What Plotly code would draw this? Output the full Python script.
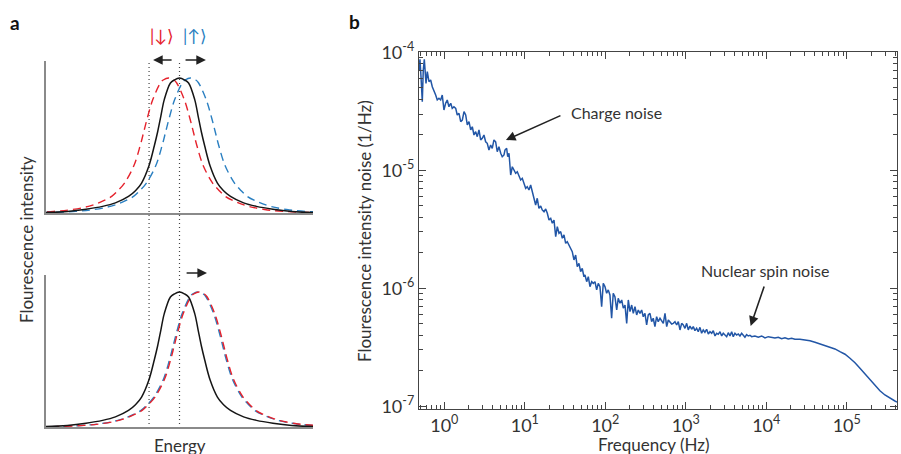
import plotly.graph_objects as go

# ---------------- Panel a: schematic line shapes ----------------
# one-sided profiles: offset from line centre (energy units) -> relative intensity
solid_offset = [0, 0.2, 0.34, 0.57, 0.70, 0.82, 0.94, 1.15, 1.42, 1.65, 1.91, 2.4, 2.88, 3.5, 4.2, 5.0, 6.0]
solid_value = [1.0, 0.985, 0.963, 0.84, 0.716, 0.60, 0.50, 0.346, 0.222, 0.165, 0.123, 0.075, 0.049, 0.028, 0.012, 0.004, 0.001]
dashed_offset = [0, 0.2, 0.3, 0.59, 0.8, 0.93, 1.06, 1.3, 1.65, 1.9, 2.13, 2.55, 3.0, 3.6, 4.3, 5.5, 6.5]
dashed_value = [1.0, 0.985, 0.965, 0.84, 0.70, 0.60, 0.50, 0.35, 0.222, 0.165, 0.123, 0.08, 0.049, 0.026, 0.012, 0.003, 0.001]

centre_black = 0.0
centre_top_down = -0.41
centre_top_up = 0.41
centre_bottom_down = 0.73
centre_bottom_up = 0.69
guide_lines = [-1.14, 0.0]
ket_labels = ["|↓⟩", "|↑⟩"]

# ---------------- Panel b: fluorescence intensity noise spectrum (log10 values) ----------------
freq_log10 = [
    -0.314, -0.302, -0.289, -0.273, -0.261, -0.248, -0.227, -0.211, -0.190, -0.169,
    -0.149, -0.128, -0.107, -0.087, -0.066, -0.045, -0.025, -0.004, 0.017, 0.037,
    0.058, 0.080, 0.099, 0.120, 0.142, 0.161, 0.183, 0.204, 0.224, 0.245,
    0.266, 0.286, 0.307, 0.328, 0.348, 0.369, 0.390, 0.410, 0.431, 0.452,
    0.472, 0.493, 0.514, 0.534, 0.555, 0.576, 0.596, 0.617, 0.638, 0.658,
    0.679, 0.701, 0.720, 0.742,
    0.754, 0.775, 0.788, 0.804, 0.825, 0.845, 0.866, 0.887, 0.907, 0.928,
    0.949, 0.969, 0.990, 1.011, 1.031, 1.052, 1.073, 1.093, 1.114, 1.135,
    1.155, 1.176, 1.198, 1.217, 1.239, 1.260, 1.280, 1.301, 1.322, 1.342,
    1.363, 1.384, 1.404, 1.425, 1.446, 1.466, 1.487, 1.508, 1.528, 1.549,
    1.570, 1.590, 1.611, 1.632, 1.652, 1.673, 1.694, 1.714, 1.735,
    1.748, 1.769, 1.789, 1.810, 1.831, 1.851, 1.872, 1.893, 1.913, 1.934,
    1.955, 1.975, 1.996, 2.017, 2.037, 2.058, 2.079, 2.099, 2.120, 2.142,
    2.161, 2.183, 2.204, 2.224, 2.245, 2.266, 2.286, 2.307, 2.328, 2.348,
    2.369, 2.390, 2.410, 2.431, 2.452, 2.472, 2.493, 2.514, 2.534, 2.555,
    2.576, 2.596, 2.617, 2.638, 2.658, 2.680, 2.701, 2.721, 2.742, 2.763,
    2.783, 2.804, 2.825, 2.845, 2.866, 2.887, 2.907, 2.928, 2.949,
    2.969, 2.990, 3.011, 3.031, 3.052, 3.073, 3.093, 3.114, 3.135, 3.155,
    3.176, 3.197, 3.217, 3.238, 3.259, 3.280, 3.301, 3.322, 3.342, 3.363,
    3.384, 3.404, 3.425, 3.446, 3.466, 3.487, 3.508, 3.528, 3.549, 3.570,
    3.590, 3.611, 3.632, 3.652, 3.673, 3.694, 3.714, 3.735, 3.756, 3.776,
    3.797, 3.818, 3.859, 3.901, 3.943, 3.984, 4.025, 4.067, 4.108, 4.149,
    4.191, 4.232, 4.273, 4.315, 4.356,
    4.418, 4.481, 4.543, 4.605, 4.667, 4.729, 4.791, 4.853, 4.915, 4.978,
    5.040, 5.102, 5.164, 5.226, 5.288, 5.350, 5.412, 5.474, 5.536, 5.598, 5.624,
]
noise_log10 = [
    -4.150, -4.059, -4.207, -4.419, -4.150, -4.059, -4.263, -4.164, -4.249, -4.235,
    -4.292, -4.320, -4.362, -4.404, -4.390, -4.404, -4.362, -4.489, -4.432, -4.404,
    -4.461, -4.432, -4.475, -4.461, -4.475, -4.531, -4.517, -4.588, -4.574, -4.503,
    -4.531, -4.616, -4.588, -4.658, -4.631, -4.701, -4.673, -4.715, -4.658, -4.743,
    -4.729, -4.701, -4.758, -4.771, -4.828, -4.786, -4.814, -4.743, -4.758, -4.842,
    -4.800, -4.856, -4.885, -4.870,
    -4.828, -4.814, -4.885, -4.856, -5.040, -4.970, -4.997, -5.025, -5.012, -5.054,
    -5.082, -5.068, -5.110, -5.153, -5.139, -5.167, -5.125, -5.181, -5.252, -5.294,
    -5.237, -5.322, -5.303, -5.336, -5.351, -5.328, -5.364, -5.421, -5.407, -5.449,
    -5.421, -5.563, -5.478, -5.534, -5.520, -5.576, -5.548, -5.619, -5.605, -5.633,
    -5.675, -5.690, -5.760, -5.718, -5.817, -5.788, -5.859, -5.831, -5.902,
    -5.887, -5.944, -5.902, -5.986, -5.944, -5.958, -5.944, -6.014, -5.958, -5.986,
    -6.156, -5.958, -5.986, -6.042, -6.014, -6.057, -6.254, -6.042, -6.071, -6.184,
    -6.085, -6.127, -6.099, -6.169, -6.142, -6.297, -6.099, -6.198, -6.142, -6.212,
    -6.156, -6.226, -6.184, -6.212, -6.184, -6.241, -6.212, -6.311, -6.226, -6.212,
    -6.283, -6.254, -6.325, -6.241, -6.283, -6.254, -6.283, -6.297, -6.212, -6.325,
    -6.269, -6.283, -6.303, -6.297, -6.283, -6.311, -6.283, -6.353, -6.297,
    -6.311, -6.339, -6.297, -6.353, -6.320, -6.347, -6.325, -6.359, -6.339, -6.368,
    -6.331, -6.381, -6.353, -6.373, -6.347, -6.387, -6.368, -6.381, -6.359, -6.404,
    -6.381, -6.390, -6.368, -6.404, -6.381, -6.396, -6.410, -6.376, -6.404, -6.368,
    -6.410, -6.381, -6.396, -6.387, -6.404, -6.381, -6.398, -6.415, -6.393, -6.404,
    -6.398, -6.410, -6.404, -6.415, -6.404, -6.421, -6.410, -6.415, -6.421, -6.415,
    -6.427, -6.419, -6.430, -6.424, -6.432,
    -6.432, -6.438, -6.444, -6.458, -6.472, -6.481, -6.495, -6.514, -6.537, -6.559,
    -6.593, -6.631, -6.678, -6.726, -6.777, -6.828, -6.868, -6.904, -6.932, -6.955, -6.964,
]
freq_major = [1e0, 1e1, 1e2, 1e3, 1e4, 1e5]
freq_major_text = ["10<sup>0</sup>", "10<sup>1</sup>", "10<sup>2</sup>", "10<sup>3</sup>", "10<sup>4</sup>", "10<sup>5</sup>"]
noise_major = [1e-7, 1e-6, 1e-5, 1e-4]
noise_major_text = ["10<sup>-7</sup>", "10<sup>-6</sup>", "10<sup>-5</sup>", "10<sup>-4</sup>"]

freq = [10 ** v for v in freq_log10]
noise = [10 ** v for v in noise_log10]
freq_minor = [k * 10.0 ** n for n in range(-1, 6) for k in range(2, 10)]
noise_minor = [k * 10.0 ** n for n in range(-7, -4) for k in range(2, 10)]

RED = "#e5222c"
BLUE = "#2a7fc1"
BLACK = "#151515"
NAVY = "#2256a6"
FONT = "Lato, 'Open Sans', sans-serif"
TXT = "#333333"
W, H = 901, 454


def profile(centre, offs, vals):
    xs = [centre - d for d in reversed(offs[1:])] + [centre + d for d in offs]
    ys = list(reversed(vals[1:])) + list(vals)
    return xs, ys


fig = go.Figure()


def add_curve(centre, offs, vals, color, dash, xa, ya, width):
    xs, ys = profile(centre, offs, vals)
    fig.add_trace(go.Scatter(x=xs, y=ys, xaxis=xa, yaxis=ya, mode="lines",
                             line=dict(color=color, width=width, dash=dash, shape="spline", smoothing=1.0),
                             hoverinfo="skip", showlegend=False))


DASH = "8px,5px"
# top panel
add_curve(centre_top_down, dashed_offset, dashed_value, RED, DASH, "x", "y", 1.4)
add_curve(centre_top_up, dashed_offset, dashed_value, BLUE, DASH, "x", "y", 1.4)
add_curve(centre_black, solid_offset, solid_value, BLACK, "solid", "x", "y", 1.5)
# bottom panel
add_curve(centre_bottom_up, dashed_offset, dashed_value, BLUE, DASH, "x2", "y2", 1.4)
add_curve(centre_bottom_down, dashed_offset, dashed_value, RED, DASH, "x2", "y2", 1.4)
add_curve(centre_black, solid_offset, solid_value, BLACK, "solid", "x2", "y2", 1.5)

# panel b spectrum
fig.add_trace(go.Scatter(x=freq, y=noise, xaxis="x3", yaxis="y3", mode="lines",
                         line=dict(color=NAVY, width=1.5), hoverinfo="skip", showlegend=False))

a_x_dom = [46 / W, 313 / W]
plain = dict(showline=True, linecolor="#8a8a8a", linewidth=1.5, ticks="", showticklabels=False,
             showgrid=False, zeroline=False, fixedrange=True)

frame = dict(showline=True, linecolor="#444444", linewidth=1.2, mirror="ticks", ticks="inside",
             ticklen=7, tickwidth=1.1, tickcolor="#444444", showgrid=False, zeroline=False,
             tickfont=dict(family=FONT, size=18, color=TXT), type="log", tickmode="array",
             automargin=False)

fig.update_layout(
    width=W, height=H, margin=dict(l=0, r=0, t=0, b=0, pad=0, autoexpand=False), autosize=False,
    paper_bgcolor="white", plot_bgcolor="white", showlegend=False,
    xaxis=dict(domain=a_x_dom, range=[-5, 5], anchor="y", **plain),
    yaxis=dict(domain=[1 - 213 / H, 1 - 61 / H], range=[0, 1.126], anchor="x", **plain),
    xaxis2=dict(domain=a_x_dom, range=[-5, 5], anchor="y2", **plain),
    yaxis2=dict(domain=[1 - 427 / H, 1 - 275 / H], range=[0, 1.126], anchor="x2", **plain),
    xaxis3=dict(domain=[419 / W, 897 / W], range=[-0.314, 5.624], anchor="y3",
                tickvals=freq_major, ticktext=freq_major_text,
                minor=dict(tickmode="array", tickvals=freq_minor, ticks="inside", ticklen=4,
                           tickwidth=1, tickcolor="#444444"),
                **frame),
    yaxis3=dict(domain=[1 - 409 / H, 1 - 52.3 / H], range=[-7.023, -4.0], anchor="x3",
                tickvals=noise_major, ticktext=noise_major_text,
                minor=dict(tickmode="array", tickvals=noise_minor, ticks="inside", ticklen=4,
                           tickwidth=1, tickcolor="#444444"),
                **frame),
)

# dotted guide lines spanning both schematic panels
for gx in guide_lines:
    fig.add_shape(type="line", xref="x", yref="paper", x0=gx, x1=gx,
                  y0=1 - 428 / H, y1=1 - 63 / H,
                  line=dict(color="#444444", width=1.2, dash="1px,3px"), layer="below")

arrow_style = dict(showarrow=True, arrowhead=2, arrowsize=1.2, arrowwidth=1.6, arrowcolor="#222222", text="")
# top panel arrows (state-dependent shifts) - x in energy units, y in paper units above the panel
y_top_arrow = 1 - 60 / H
y_bottom_arrow = 1 - 273 / H
fig.add_annotation(x=-0.99, y=y_top_arrow, ax=-0.24, ay=0, xref="x", yref="paper", axref="x", ayref="pixel", **arrow_style)
fig.add_annotation(x=0.99, y=y_top_arrow, ax=0.17, ay=0, xref="x", yref="paper", axref="x", ayref="pixel", **arrow_style)
# bottom panel arrow (common shift)
fig.add_annotation(x=1.03, y=y_bottom_arrow, ax=0.21, ay=0, xref="x2", yref="paper", axref="x2", ayref="pixel", **arrow_style)

mid = dict(showarrow=False, xanchor="center", yanchor="middle")
# ket labels
fig.add_annotation(x=-0.66, y=1 - 35 / H, xref="x", yref="paper", text=ket_labels[0],
                   font=dict(family=FONT, size=17, color=RED), **mid)
fig.add_annotation(x=0.58, y=1 - 35 / H, xref="x", yref="paper", text=ket_labels[1],
                   font=dict(family=FONT, size=17, color=BLUE), **mid)

# panel letters and titles
fig.add_annotation(x=15 / W, y=1 - 22 / H, xref="paper", yref="paper", text="<b>a</b>",
                   font=dict(family=FONT, size=19, color="#111111"), **mid)
fig.add_annotation(x=354 / W, y=1 - 21 / H, xref="paper", yref="paper", text="<b>b</b>",
                   font=dict(family=FONT, size=19, color="#111111"), **mid)
fig.add_annotation(x=26 / W, y=1 - 240 / H, xref="paper", yref="paper", text="Flourescence intensity",
                   textangle=-90, font=dict(family=FONT, size=17, color=TXT), **mid)
fig.add_annotation(x=180 / W, y=1 - 445 / H, xref="paper", yref="paper", text="Energy",
                   font=dict(family=FONT, size=17, color=TXT), **mid)
fig.add_annotation(x=365 / W, y=1 - 231 / H, xref="paper", yref="paper",
                   text="Flourescence intensity noise (1/Hz)", textangle=-90,
                   font=dict(family=FONT, size=17, color=TXT), **mid)
fig.add_annotation(x=654 / W, y=1 - 444 / H, xref="paper", yref="paper", text="Frequency (Hz)",
                   font=dict(family=FONT, size=17, color=TXT), **mid)

# panel b callouts
fig.add_annotation(x=0.766, y=-4.743, xref="x3", yref="y3", ax=56, ay=-25, **arrow_style)
fig.add_annotation(x=3.806, y=-6.319, xref="x3", yref="y3", ax=14, ay=-41, **arrow_style)
fig.add_annotation(x=2.145, y=-4.514, xref="x3", yref="y3", text="Charge noise",
                   font=dict(family=FONT, size=16, color=TXT), **mid)
fig.add_annotation(x=3.984, y=-5.845, xref="x3", yref="y3", text="Nuclear spin noise",
                   font=dict(family=FONT, size=16, color=TXT), **mid)

fig.write_html("out.html", config={"displayModeBar": False},
               post_script="document.body.style.margin='0px';")
